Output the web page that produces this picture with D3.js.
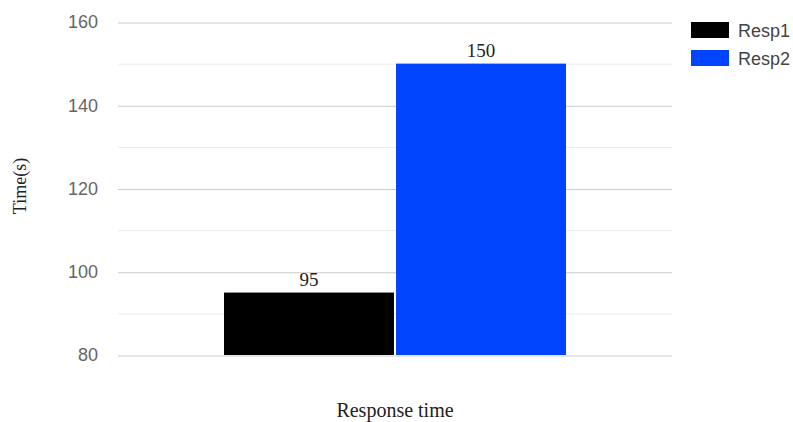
<!DOCTYPE html>
<html><head><meta charset="utf-8">
<script src="https://cdn.jsdelivr.net/npm/d3@7"></script>
<style>body{margin:0;background:#fff}</style>
</head><body>
<svg id="c" width="793" height="422"></svg>
<script>
const categories = ["Response time"];
const seriesNames = ["Resp1", "Resp2"];
const seriesValues = [95, 150];
const seriesColors = ["#000000", "#0044ff"];
const yTicks = [80, 100, 120, 140, 160];
const yMinor = [90, 110, 130, 150];

const svg = d3.select("#c");
const m = {left: 118, right: 672, top: 22, bottom: 355};
const y = d3.scaleLinear().domain([80, 160]).range([m.bottom, m.top]);
const x0 = d3.scaleBand().domain(categories).range([m.left, m.right]).paddingInner(0).paddingOuter(0.31);
const x1 = d3.scaleBand().domain(seriesNames).range([0, x0.bandwidth()]).paddingInner(0.012);

svg.append("g").selectAll("line").data(yMinor).join("line")
  .attr("x1", m.left).attr("x2", m.right)
  .attr("y1", d => y(d) + 0.5).attr("y2", d => y(d) + 0.5)
  .attr("stroke", "#ebebeb").attr("stroke-width", 1);

const ax = svg.append("g").attr("transform", `translate(${m.left},0)`)
  .call(d3.axisLeft(y).tickValues(yTicks).tickSize(-(m.right - m.left)).tickPadding(20).tickFormat(d3.format("d")));
ax.select(".domain").remove();
ax.selectAll(".tick line").attr("stroke", "#cccccc").attr("transform", "translate(0,0.5)");
ax.selectAll(".tick text").attr("fill", "#666").style("font-family", "Liberation Sans, Arial, sans-serif").style("font-size", "18px");

const g = svg.append("g");
categories.forEach(cat => {
  g.selectAll("rect.b").data(seriesValues).join("rect")
    .attr("x", (d, i) => x0(cat) + x1(seriesNames[i]))
    .attr("width", x1.bandwidth())
    .attr("y", d => y(d))
    .attr("height", d => y(80) - y(d))
    .attr("fill", (d, i) => seriesColors[i]);
  g.selectAll("text.v").data(seriesValues).join("text")
    .attr("x", (d, i) => x0(cat) + x1(seriesNames[i]) + x1.bandwidth() / 2)
    .attr("y", d => y(d) - 7)
    .attr("text-anchor", "middle")
    .style("font-family", "Liberation Serif, Times New Roman, serif")
    .style("font-size", "19px").attr("fill", "#222")
    .text(d => d);
});

svg.append("text").attr("x", 395).attr("y", 417).attr("text-anchor", "middle")
  .style("font-family", "Liberation Serif, Times New Roman, serif").style("font-size", "20px").attr("fill", "#222")
  .text(categories[0]);

svg.append("text").attr("transform", "translate(26,186) rotate(-90)").attr("text-anchor", "middle")
  .style("font-family", "Liberation Serif, Times New Roman, serif").style("font-size", "18px").attr("fill", "#222")
  .text("Time(s)");

const leg = svg.append("g");
seriesNames.forEach((s, i) => {
  leg.append("rect").attr("x", 691).attr("y", 22 + i * 28).attr("width", 38).attr("height", 16).attr("fill", seriesColors[i]);
  leg.append("text").attr("x", 738).attr("y", 37 + i * 28)
    .style("font-family", "Liberation Sans, Arial, sans-serif").style("font-size", "18px").attr("fill", "#444").text(s);
});
</script>
</body></html>
